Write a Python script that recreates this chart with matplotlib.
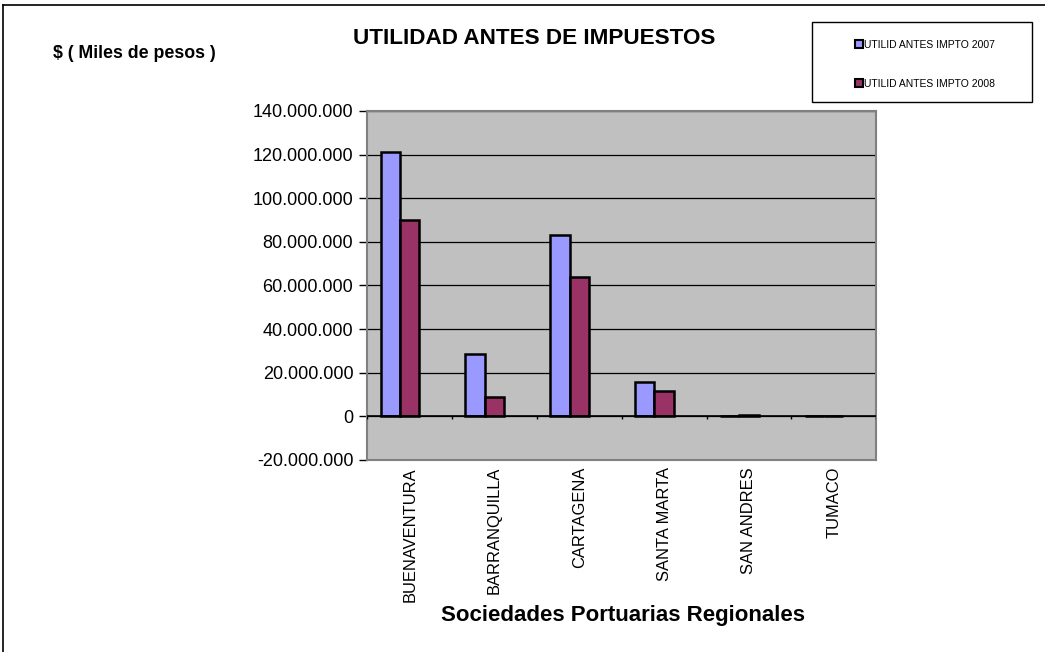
import matplotlib.pyplot as plt
from matplotlib.lines import Line2D
from matplotlib.patches import Rectangle
import numpy as np

plt.rcParams['font.family'] = ['Liberation Sans', 'DejaVu Sans']

# data (miles de pesos)
puertos = ['BUENAVENTURA', 'BARRANQUILLA', 'CARTAGENA', 'SANTA MARTA', 'SAN ANDRES', 'TUMACO']
utilidad_2007 = [121100000, 28600000, 83000000, 15600000, 300000, 200000]
utilidad_2008 = [90200000, 8900000, 64000000, 11800000, 600000, 0]
y_ticks = np.arange(-20000000, 140000001, 20000000)

fig = plt.figure(figsize=(10.45, 6.52), dpi=100)
ax = fig.add_axes([0.3514, 0.2945, 0.4871, 0.5353])
ax.set_facecolor('#c0c0c0')

x = np.arange(len(puertos))
w = 0.228
ax.bar(x - 0.343, utilidad_2007, width=w, align='edge', color='#9999ff',
       edgecolor='black', linewidth=1.8, zorder=3)
ax.bar(x - 0.115, utilidad_2008, width=w, align='edge', color='#993366',
       edgecolor='black', linewidth=1.8, zorder=3)

ax.set_xlim(-0.5, len(puertos) - 0.5)
ax.set_ylim(y_ticks[0], y_ticks[-1])
ax.set_yticks(y_ticks)
ax.set_yticklabels(['{:,}'.format(v).replace(',', '.') for v in y_ticks], fontsize=13)
ax.yaxis.grid(True, color='black', linewidth=0.9, zorder=1)
ax.tick_params(axis='y', direction='out', length=6, width=1, pad=4)

ax.set_xticks(x)
ax.set_xticklabels(puertos, rotation=90, fontsize=11.9, va='top')
ax.tick_params(axis='x', length=0, pad=5)

# category axis crossing at zero
ax.axhline(0, color='black', linewidth=1.2, zorder=4)
ax.vlines(np.arange(len(puertos) + 1) - 0.5, -1400000, 0, color='black',
          linewidth=1, zorder=4)

for s in ax.spines.values():
    s.set_color('#808080')
    s.set_linewidth(1.5)

fig.text(0.596, 1 - 615 / 652, 'Sociedades Portuarias Regionales', ha='center',
         va='center', fontsize=16, fontweight='bold')
fig.text(0.511, 1 - 38 / 652, 'UTILIDAD ANTES DE IMPUESTOS', ha='center', va='center',
         fontsize=16.2, fontweight='bold')
fig.text(0.051, 1 - 54 / 652, '$ ( Miles de pesos )', ha='left', va='center',
         fontsize=12.8, fontweight='bold')

# legend box
fig.add_artist(Rectangle((0.777, 0.844), 0.211, 0.122, transform=fig.transFigure,
                         facecolor='white', edgecolor='black', linewidth=1))
handles = [
    Line2D([], [], marker='s', linestyle='none', markersize=6,
           markerfacecolor='#9999ff', markeredgecolor='black', markeredgewidth=1.5),
    Line2D([], [], marker='s', linestyle='none', markersize=6,
           markerfacecolor='#993366', markeredgecolor='black', markeredgewidth=1.5),
]
leg = fig.legend(handles, ['UTILID ANTES IMPTO 2007', 'UTILID ANTES IMPTO 2008'],
                 loc='center', bbox_to_anchor=(0.8855, 0.9015),
                 fontsize=7.5, frameon=False,
                 handlelength=0.6, handletextpad=0.15, labelspacing=2.75,
                 borderpad=0, borderaxespad=0)

# outer chart border (top and left visible)
fig.add_artist(Line2D([0.003, 1.0], [0.992, 0.992], color='black', linewidth=1.2))
fig.add_artist(Line2D([0.003, 0.003], [0.0, 0.992], color='black', linewidth=1.2))

fig.savefig('out.png', dpi=100)
